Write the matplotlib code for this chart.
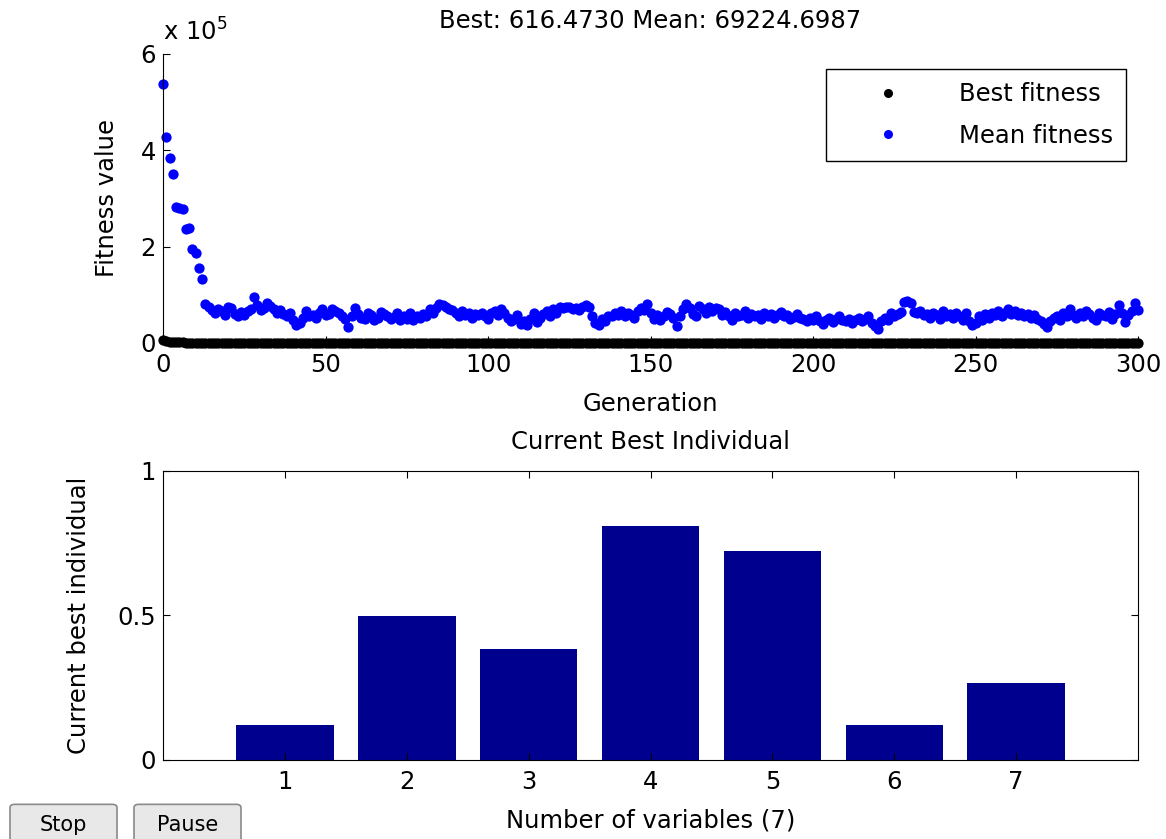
import matplotlib.pyplot as plt
from matplotlib.patches import FancyBboxPatch
from matplotlib.lines import Line2D

plt.rcParams['font.family'] = ['DejaVu Sans']
plt.rcParams['font.size'] = 17.5

# mean fitness per generation, in units of 1e5 (generation 0..300)
mean_fitness_e5 = [
    5.38, 4.28, 3.84, 3.51, 2.82, 2.80, 2.78, 2.36, 2.38, 1.95, 1.87, 1.56, 1.33,
    0.81, 0.74, 0.68, 0.62, 0.70, 0.66, 0.58, 0.75, 0.72, 0.60, 0.55, 0.64, 0.58, 0.66, 0.70, 0.95, 0.78,
    0.68, 0.72, 0.82, 0.76, 0.70, 0.62, 0.68, 0.60, 0.55, 0.62, 0.48, 0.38, 0.42, 0.52, 0.66, 0.55, 0.58, 0.52, 0.62, 0.70,
    0.58, 0.60, 0.70, 0.66, 0.62, 0.56, 0.50, 0.34, 0.55, 0.72, 0.60, 0.52, 0.50, 0.62, 0.58, 0.48, 0.52, 0.65, 0.60, 0.56,
    0.50, 0.54, 0.62, 0.48, 0.55, 0.50, 0.62, 0.48, 0.57, 0.52, 0.60, 0.55, 0.70, 0.62, 0.72, 0.80, 0.78, 0.75, 0.70, 0.68,
    0.62, 0.55, 0.66, 0.58, 0.62, 0.52, 0.60, 0.58, 0.62, 0.55, 0.50, 0.62, 0.66, 0.58, 0.70, 0.62, 0.52, 0.45, 0.50, 0.58,
    0.40, 0.46, 0.38, 0.50, 0.62, 0.44, 0.52, 0.60, 0.66, 0.55, 0.70, 0.62, 0.75, 0.72, 0.75, 0.74, 0.70, 0.72, 0.68, 0.75,
    0.78, 0.74, 0.55, 0.42, 0.38, 0.50, 0.45, 0.56, 0.55, 0.62, 0.58, 0.66, 0.55, 0.62, 0.58, 0.52, 0.66, 0.72, 0.68, 0.80,
    0.62, 0.50, 0.58, 0.48, 0.55, 0.65, 0.60, 0.52, 0.35, 0.55, 0.70, 0.80, 0.72, 0.60, 0.55, 0.76, 0.70, 0.62, 0.75, 0.66,
    0.72, 0.70, 0.58, 0.65, 0.55, 0.48, 0.62, 0.55, 0.58, 0.66, 0.52, 0.60, 0.56, 0.58, 0.50, 0.62, 0.55, 0.60, 0.52, 0.58,
    0.65, 0.55, 0.58, 0.50, 0.54, 0.60, 0.52, 0.50, 0.45, 0.52, 0.48, 0.56, 0.46, 0.40, 0.48, 0.52, 0.44, 0.50, 0.55, 0.48,
    0.45, 0.50, 0.42, 0.48, 0.52, 0.46, 0.50, 0.55, 0.42, 0.36, 0.30, 0.45, 0.52, 0.48, 0.62, 0.55, 0.60, 0.65, 0.85, 0.88,
    0.82, 0.65, 0.62, 0.66, 0.58, 0.60, 0.52, 0.62, 0.58, 0.50, 0.66, 0.55, 0.60, 0.52, 0.62, 0.55, 0.48, 0.62, 0.45, 0.37,
    0.42, 0.55, 0.48, 0.60, 0.52, 0.62, 0.58, 0.66, 0.55, 0.62, 0.70, 0.60, 0.66, 0.58, 0.62, 0.55, 0.60, 0.52, 0.58, 0.50,
    0.45, 0.40, 0.34, 0.45, 0.52, 0.55, 0.48, 0.62, 0.55, 0.70, 0.58, 0.52, 0.62, 0.55, 0.66, 0.60, 0.52, 0.48, 0.62, 0.58,
    0.55, 0.65, 0.50, 0.60, 0.79, 0.62, 0.44, 0.58, 0.66, 0.84, 0.68,
]
# best fitness (1e5 units): small start, then flat at 616.4730
best_start_e5 = [0.062, 0.045, 0.030, 0.022, 0.018, 0.015, 0.012, 0.010, 0.009, 0.008]
best_final_e5 = 0.006164730
best_fitness_e5 = best_start_e5 + [best_final_e5] * (len(mean_fitness_e5) - len(best_start_e5))
generations = list(range(len(mean_fitness_e5)))

# current best individual
var_ids = [1, 2, 3, 4, 5, 6, 7]
var_values = [0.121, 0.498, 0.384, 0.810, 0.723, 0.121, 0.266]

fig = plt.figure(figsize=(11.66, 8.39), dpi=100)

# ---- top: fitness per generation
ax1 = fig.add_axes([0.1398, 0.5912, 0.8362, 0.3445])
ax1.plot(generations, best_fitness_e5, 'o', color='black', ms=7.4, mec='none', clip_on=False, zorder=3)
ax1.plot(generations, mean_fitness_e5, 'o', color='#0000ff', ms=7.4, mec='none', clip_on=False, zorder=2)
ax1.set_xlim(0, 300)
ax1.set_ylim(0, 6)
ax1.set_xticks([0, 50, 100, 150, 200, 250, 300])
ax1.set_yticks([0, 2, 4, 6])
ax1.spines['top'].set_visible(False)
ax1.spines['right'].set_visible(False)
ax1.tick_params(direction='in', length=5, width=0.8, pad=7)
ax1.tick_params(axis='y', pad=5)
ax1.set_xlabel('Generation')
ax1.xaxis.set_label_coords(0.5, -0.168)
ax1.set_ylabel('Fitness value')
ax1.yaxis.set_label_coords(-0.045, 0.5)
ax1.set_title('Best: 616.4730 Mean: 69224.6987', fontsize=17.5, pad=19)
ax1.text(0.0, 1.03, r'x 10$^5$', transform=ax1.transAxes, fontsize=17.5, ha='left', va='bottom')

handles = [Line2D([], [], ls='none', marker='o', color='black', ms=6.5, mec='none'),
           Line2D([], [], ls='none', marker='o', color='#0000ff', ms=6.5, mec='none')]
leg = ax1.legend(handles, ['Best fitness', 'Mean fitness'], loc='upper right',
                 bbox_to_anchor=(0.988, 0.948), fancybox=False, framealpha=1,
                 edgecolor='black', handlelength=4.0, handletextpad=0.9,
                 borderpad=0.55, labelspacing=0.72, fontsize=17.5, borderaxespad=0)
leg.get_frame().set_linewidth(1.0)

# ---- bottom: current best individual
ax2 = fig.add_axes([0.1398, 0.0942, 0.8362, 0.3445])
ax2.bar(var_ids, var_values, width=0.8, color='#00008f')
ax2.set_xlim(0, 8)
ax2.set_ylim(0, 1)
ax2.set_xticks(var_ids)
ax2.set_yticks([0, 0.5, 1])
ax2.set_yticklabels(['0', '0.5', '1'])
ax2.tick_params(direction='in', length=5, width=0.8, top=True, right=True, pad=7)
ax2.tick_params(axis='y', pad=5)
ax2.set_xlabel('Number of variables (7)')
ax2.xaxis.set_label_coords(0.5, -0.168)
ax2.set_ylabel('Current best individual')
ax2.yaxis.set_label_coords(-0.074, 0.5)
ax2.set_title('Current Best Individual', fontsize=17.5, pad=16)

# ---- GUI buttons
for label, x0 in [('Stop', 10), ('Pause', 134)]:
    btn = FancyBboxPatch((x0 / 1166, -0.004), 107 / 1166, 38 / 839,
                         boxstyle='round,pad=0,rounding_size=0.004',
                         transform=fig.transFigure, facecolor='#e8e8e8',
                         edgecolor='#8a8a8a', linewidth=1.2)
    fig.patches.append(btn)
    fig.text((x0 + 53.5) / 1166, 14 / 839, label, ha='center', va='center', fontsize=15)

fig.savefig('out.png', dpi=100)
